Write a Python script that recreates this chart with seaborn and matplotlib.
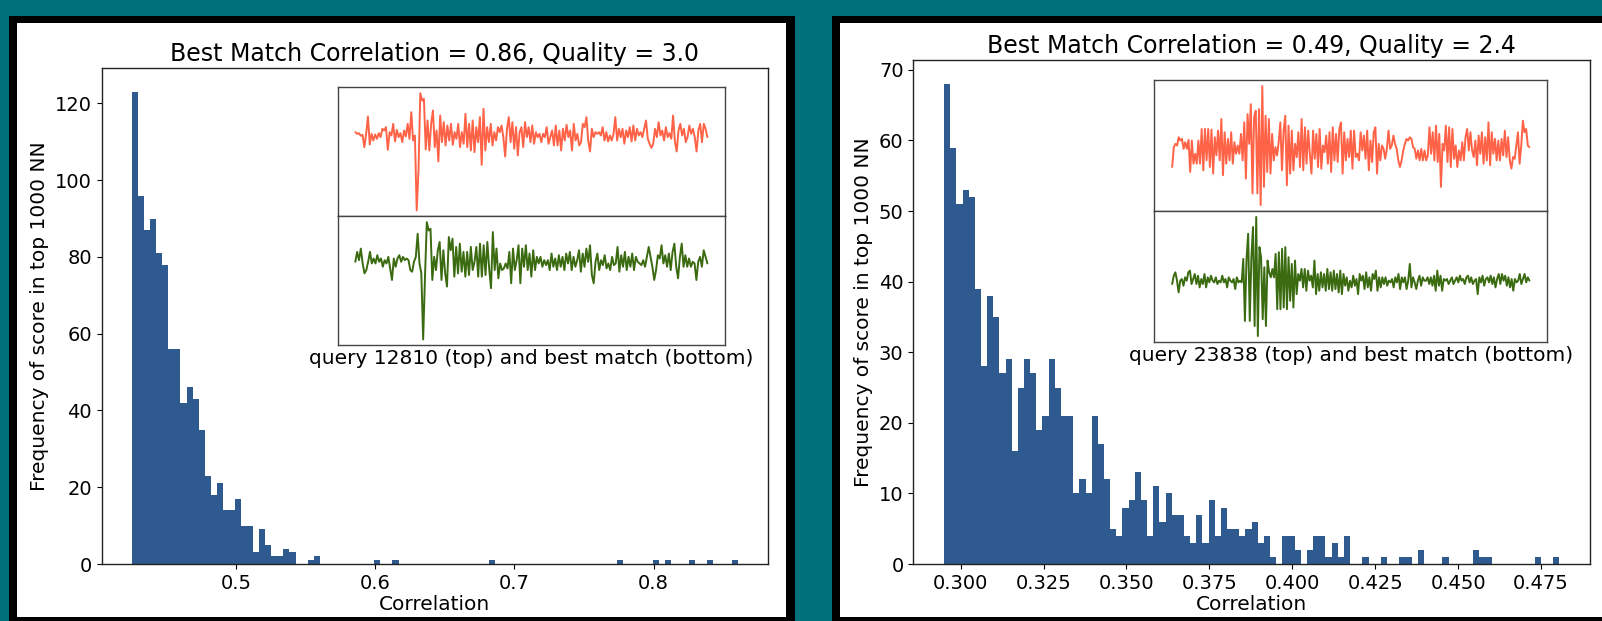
import numpy as np
import matplotlib
matplotlib.use('Agg')
import matplotlib.pyplot as plt
from matplotlib.patches import Rectangle
import seaborn as sns

# ---- left panel: query 12810 ----
left_title = 'Best Match Correlation = 0.86, Quality = 3.0'
left_caption = 'query 12810 (top) and best match (bottom)'
left_lo, left_hi = 0.425, 0.8605          # min / max correlation in the top 1000
left_counts = [123, 96, 87, 90, 81, 78, 56, 56, 42, 46,
               43, 35, 23, 18, 21, 14, 14, 17, 10, 10,
               3, 9, 5, 2, 2, 4, 3, 0, 0, 1,
               2, 0, 0, 0, 0, 0, 0, 0, 0, 0,
               1, 0, 0, 1, 0, 0, 0, 0, 0, 0,
               0, 0, 0, 0, 0, 0, 0, 0, 0, 1,
               0, 0, 0, 0, 0, 0, 0, 0, 0, 0,
               0, 0, 0, 0, 0, 0, 0, 0, 0, 0,
               1, 0, 0, 0, 0, 0, 1, 0, 1, 0,
               0, 0, 1, 0, 0, 1, 0, 0, 0, 1]

# ---- right panel: query 23838 ----
right_title = 'Best Match Correlation = 0.49, Quality = 2.4'
right_caption = 'query 23838 (top) and best match (bottom)'
right_lo, right_hi = 0.295, 0.4805
right_counts = [68, 59, 51, 53, 52, 39, 28, 38, 35, 27,
                29, 16, 25, 29, 27, 19, 21, 29, 25, 21,
                21, 10, 12, 10, 21, 17, 12, 5, 4, 8,
                9, 13, 9, 4, 11, 6, 10, 7, 7, 4,
                3, 7, 3, 9, 4, 8, 5, 5, 4, 5,
                6, 3, 4, 1, 0, 4, 4, 2, 0, 2,
                4, 4, 1, 3, 1, 4, 0, 0, 1, 0,
                0, 1, 0, 0, 1, 1, 0, 2, 0, 0,
                0, 1, 0, 0, 0, 0, 2, 1, 1, 0,
                0, 0, 0, 0, 0, 0, 1, 0, 0, 1]

left_query = [185, 190, 188, 196, 193, 230, 190, 138, 222, 190, 210, 192, 205, 188, 200, 175, 180, 170, 238, 185,
              195, 160, 213, 178, 200, 188, 215, 180, 198, 160, 205, 125, 210, 195, 420, 300, 68, 90, 85, 237,
              150, 240, 160, 120, 230, 180, 273, 135, 215, 155, 225, 165, 210, 160, 223, 185, 205, 160, 230, 185,
              220, 130, 230, 160, 240, 150, 245, 170, 215, 140, 283, 115, 240, 170, 215, 160, 225, 185, 210, 170,
              185, 165, 200, 258, 175, 140, 215, 155, 235, 170, 255, 185, 170, 230, 155, 200, 170, 215, 165, 220,
              185, 200, 190, 215, 190, 200, 170, 220, 200, 180, 225, 165, 225, 180, 240, 175, 210, 163, 200, 180,
              240, 160, 210, 190, 225, 215, 160, 170, 140, 210, 243, 175, 200, 185, 190, 185, 195, 170, 210, 185,
              213, 195, 210, 190, 140, 210, 175, 200, 175, 220, 180, 200, 170, 213, 165, 210, 175, 195, 185, 200,
              175, 150, 205, 220, 232, 220, 175, 200, 155, 195, 180, 210, 170, 200, 188, 205, 135, 213, 243, 180,
              160, 195, 175, 215, 200, 165, 190, 175, 200, 243, 180, 160, 215, 160, 175, 200]
left_match = [575, 545, 570, 535, 580, 610, 600, 575, 545, 580, 565, 580, 555, 575, 565, 590, 570, 580, 560, 595,
              630, 565, 590, 565, 555, 575, 560, 570, 565, 570, 600, 605, 575, 560, 490, 580, 610, 810, 620, 455,
              480, 475, 630, 560, 600, 540, 515, 630, 540, 610, 650, 500, 540, 505, 620, 530, 610, 520, 605, 545,
              620, 545, 615, 530, 600, 575, 530, 620, 520, 620, 525, 615, 515, 595, 655, 485, 600, 535, 625, 580,
              600, 595, 580, 595, 545, 640, 535, 600, 570, 525, 640, 535, 590, 525, 600, 550, 620, 540, 600, 560,
              580, 560, 590, 570, 585, 570, 600, 550, 590, 565, 600, 555, 590, 560, 600, 550, 580, 545, 600, 560,
              590, 570, 540, 605, 550, 590, 535, 575, 525, 615, 640, 575, 550, 600, 570, 585, 555, 595, 580, 600,
              560, 585, 580, 530, 605, 555, 590, 545, 600, 560, 590, 550, 600, 560, 575, 580, 585, 570, 590, 560,
              530, 560, 590, 630, 600, 555, 565, 525, 580, 555, 590, 550, 600, 545, 520, 590, 625, 560, 520, 590,
              555, 590, 565, 590, 575, 580, 630, 575, 560, 590, 540, 560, 580]
right_query = [320, 260, 250, 255, 230, 240, 235, 265, 245, 265, 238, 335, 240, 310, 280, 310, 240, 310, 205, 330,
               205, 300, 205, 320, 207, 340, 230, 285, 210, 300, 175, 345, 215, 310, 235, 300, 215, 310, 245, 280,
               255, 280, 220, 300, 185, 355, 160, 250, 130, 400, 170, 150, 400, 145, 435, 75, 380, 165, 335, 175,
               340, 220, 300, 260, 285, 245, 185, 330, 210, 165, 375, 195, 340, 210, 330, 250, 290, 215, 320, 175,
               330, 200, 310, 210, 280, 340, 210, 295, 220, 320, 205, 325, 255, 275, 225, 310, 215, 335, 200, 300,
               220, 305, 205, 185, 340, 215, 300, 235, 290, 210, 325, 210, 290, 280, 300, 215, 270, 225, 295, 210,
               330, 240, 305, 215, 200, 340, 250, 300, 255, 265, 295, 265, 210, 265, 255, 225, 250, 265, 300, 320,
               300, 270, 250, 235, 240, 230, 235, 260, 265, 295, 270, 300, 265, 300, 270, 300, 285, 200, 280, 215,
               300, 195, 305, 220, 380, 250, 270, 195, 305, 200, 320, 205, 295, 255, 320, 270, 300, 245, 300, 230,
               205, 270, 215, 270, 290, 240, 315, 225, 280, 215, 310, 230, 300, 185, 315, 215, 280, 235, 300, 240,
               300, 235, 285, 210, 290, 230, 300, 325, 290, 295, 255, 215, 310, 255, 180, 215, 205, 255, 260]
right_match = [670, 645, 635, 660, 695, 660, 655, 675, 650, 660, 635, 630, 670, 655, 640, 670, 645, 680, 655, 670,
               640, 680, 650, 665, 645, 660, 665, 650, 670, 660, 665, 645, 665, 655, 680, 650, 660, 665, 655, 685,
               650, 665, 660, 665, 595, 780, 595, 520, 780, 590, 500, 795, 470, 825, 560, 590, 775, 620, 795, 600,
               635, 650, 625, 650, 580, 745, 575, 745, 565, 740, 560, 745, 590, 720, 610, 740, 600, 700, 640, 660,
               625, 680, 625, 690, 630, 660, 645, 680, 600, 700, 640, 690, 635, 680, 640, 690, 625, 685, 635, 690,
               630, 685, 640, 695, 630, 700, 640, 675, 650, 690, 660, 680, 645, 675, 655, 700, 640, 660, 645, 685,
               635, 680, 650, 690, 640, 655, 630, 690, 650, 680, 650, 670, 650, 675, 660, 665, 655, 680, 650, 665,
               640, 685, 650, 665, 650, 685, 660, 610, 680, 650, 665, 685, 660, 645, 675, 650, 660, 660, 650, 670,
               650, 675, 645, 690, 630, 675, 645, 690, 655, 660, 655, 670, 660, 650, 670, 660, 650, 665, 645, 660,
               655, 670, 650, 645, 665, 650, 670, 660, 655, 700, 650, 665, 645, 675, 655, 650, 665, 645, 670, 650,
               680, 655, 640, 670, 640, 660, 645, 675, 650, 680, 655, 690, 655, 665, 660, 640, 670, 655, 640, 665,
               650, 660]

teal = '#00717a'
bar_color = '#2f5a8f'
query_color = '#ff6347'
match_color = '#3b6b10'

W, H = 1602, 621
sns.set_style('ticks')
plt.rcParams['font.family'] = ['DejaVu Sans']
plt.rcParams['text.color'] = 'black'
plt.rcParams['axes.labelcolor'] = 'black'
plt.rcParams['xtick.color'] = 'black'
plt.rcParams['ytick.color'] = 'black'

fig = plt.figure(figsize=(W / 100, H / 100), dpi=100, facecolor=teal)


def box(x0, y0, x1, y1):
    # pixel box (origin top-left) -> [left, bottom, width, height] in figure fraction
    return [x0 / W, 1 - y1 / H, (x1 - x0) / W, (y1 - y0) / H]


def frame(x0, y0, x1, y1, color, z):
    l, b, w, h = box(x0, y0, x1, y1)
    fig.add_artist(Rectangle((l, b), w, h, transform=fig.transFigure,
                             facecolor=color, edgecolor='none', zorder=z))


# black framed white panels
frame(9, 16, 795, 640, 'black', -3)
frame(17, 23, 786, 617, 'white', -2)
frame(832, 16, 1640, 640, 'black', -3)
frame(840, 23, 1640, 617, 'white', -2)


def panel(main_box, inset_box, lo, hi, counts, title, caption, query, match):
    ax = fig.add_axes(box(*main_box))
    n = len(counts)
    width = (hi - lo) / n
    centers = lo + width * (np.arange(n) + 0.5)
    sns.histplot(x=centers, weights=counts, bins=n, binrange=(lo, hi),
                 color=bar_color, alpha=1, linewidth=0, ax=ax)
    ax.set_title(title, fontsize=17, pad=5)
    ax.set_xlabel('Correlation', fontsize=14.5, labelpad=2)
    ax.set_ylabel('Frequency of score in top 1000 NN', fontsize=14.5)
    ax.tick_params(labelsize=14)
    for s in ax.spines.values():
        s.set_color('#222222')
        s.set_linewidth(1.0)

    x0, y0, x1, y1 = inset_box
    ym = (y0 + y1) / 2
    top = fig.add_axes(box(x0, y0, x1, ym))
    bot = fig.add_axes(box(x0, ym, x1, y1))
    top.plot(-np.asarray(query), color=query_color, lw=1.4)
    bot.plot(-np.asarray(match), color=match_color, lw=1.4)
    for a in (top, bot):
        a.set_xticks([])
        a.set_yticks([])
        for s in a.spines.values():
            s.set_color('#444444')
            s.set_linewidth(1.0)
    bot.set_xlabel(caption, fontsize=14.5, labelpad=3)


panel((101.7, 68.3, 768, 564), (337.7, 87.3, 725, 345.3), left_lo, left_hi, left_counts,
      left_title, left_caption, left_query, left_match)
panel((913.3, 60, 1590, 564), (1154.3, 80, 1547.3, 342), right_lo, right_hi, right_counts,
      right_title, right_caption, right_query, right_match)

fig.savefig('out.png', dpi=100, facecolor=teal)
